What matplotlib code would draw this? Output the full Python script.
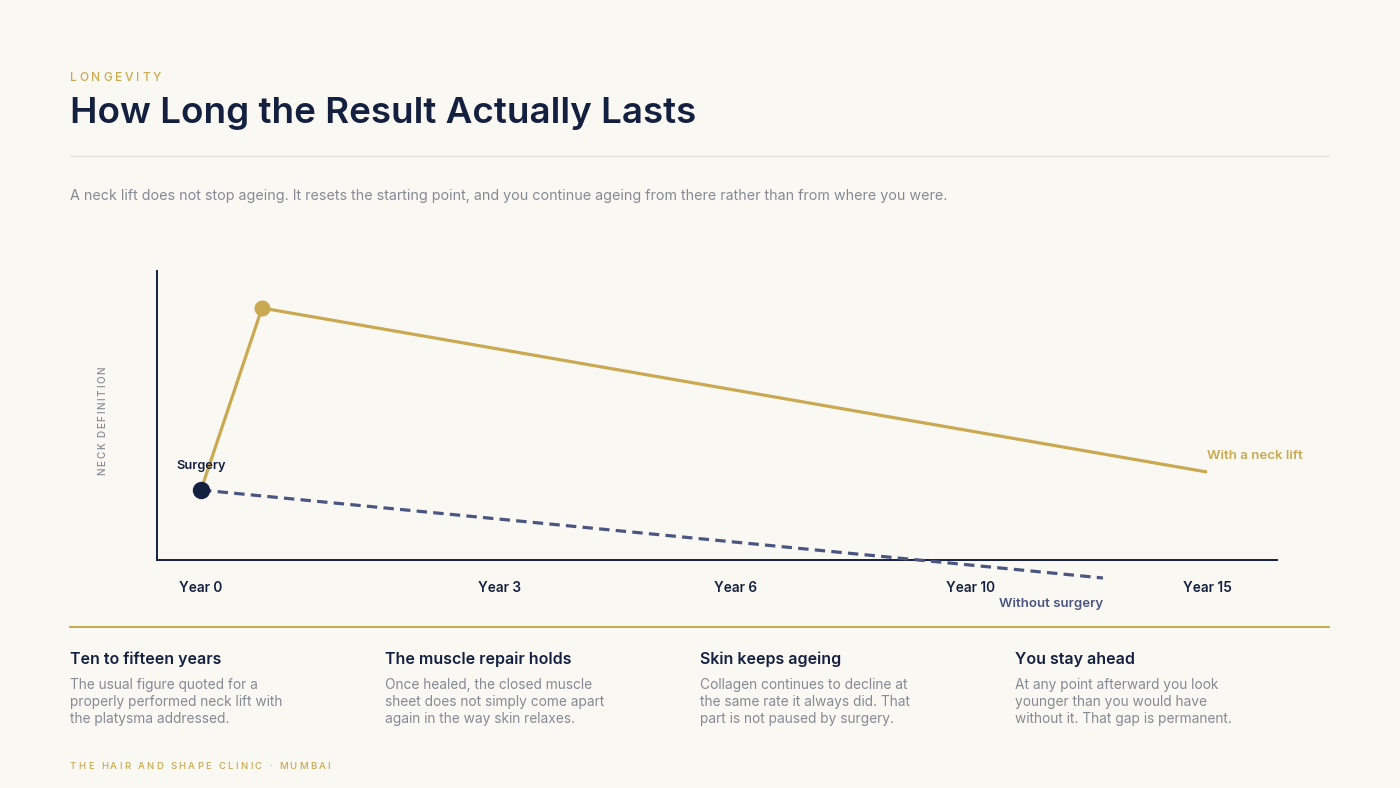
import matplotlib
matplotlib.use("Agg")
import matplotlib.pyplot as plt
from matplotlib.font_manager import FontProperties

W, H = 1400, 788
FONT = "Inter"

BG = "#faf8f3"
NAVY = "#14203f"
GOLD = "#c9a951"
SLATE = "#4b5680"
GRAY = "#878a94"
RULE = "#e6e3dc"

# chart data (chart units: x along the timeline, y = neck definition)
tick_pos = [44, 342, 578, 814, 1050]
tick_labels = ["Year 0", "Year 3", "Year 6", "Year 10", "Year 15"]
lift_x = [44, 105, 1050]
lift_y = [70, 252, 88]
nolift_x = [44, 946]
nolift_y = [70, -18]

kicker = "LONGEVITY"
title = "How Long the Result Actually Lasts"
subtitle = ("A neck lift does not stop ageing. It resets the starting point, "
            "and you continue ageing from there rather than from where you were.")
footer = "THE HAIR AND SHAPE CLINIC · MUMBAI"

card_titles = ["Ten to fifteen years", "The muscle repair holds",
               "Skin keeps ageing", "You stay ahead"]
card_lines = [
    ["The usual figure quoted for a", "properly performed neck lift with",
     "the platysma addressed."],
    ["Once healed, the closed muscle", "sheet does not simply come apart",
     "again in the way skin relaxes."],
    ["Collagen continues to decline at", "the same rate it always did. That",
     "part is not paused by surgery."],
    ["At any point afterward you look", "younger than you would have",
     "without it. That gap is permanent."],
]
card_x = [70, 385, 700, 1015]

plt.rcParams["font.family"] = [FONT, "DejaVu Sans"]
plt.rcParams["lines.scale_dashes"] = False

fig = plt.figure(figsize=(W / 100, H / 100), dpi=100, facecolor=BG)
renderer = fig.canvas.get_renderer()


def fx(x):
    return x / W


def fy(y):
    return 1 - y / H


def put(x, y, s, size, color, weight="normal", ha="left"):
    fig.text(fx(x), fy(y), s, fontsize=size, color=color, fontweight=weight,
             ha=ha, va="baseline")


def spaced(x, y, s, size, color, track, weight="normal", rotation=0):
    # letter-spaced text, drawn one glyph at a time
    prop = FontProperties(family=FONT, size=size, weight=weight)
    ref = renderer.get_text_width_height_descent("I", prop, ismath=False)[0]
    for i, ch in enumerate(s):
        if ch == " ":
            continue
        w = renderer.get_text_width_height_descent(s[:i] + "I", prop, ismath=False)[0] - ref
        off = w + i * track
        if rotation == 0:
            fig.text(fx(x + off), fy(y), ch, fontproperties=prop, color=color,
                     ha="left", va="baseline")
        else:
            fig.text(fx(x), fy(y - off), ch, fontproperties=prop, color=color,
                     ha="left", va="baseline", rotation=90, rotation_mode="anchor")


# header
spaced(70, 81, kicker, 8.6, GOLD, 2.8, weight="medium")
put(70, 123, title, 26.5, NAVY, weight="semibold")
fig.add_artist(plt.Line2D([fx(70), fx(1329)], [fy(156), fy(156)], color=RULE, lw=1))
put(70, 200, subtitle, 10.3, GRAY)

# chart
ax = fig.add_axes([fx(157), fy(560), fx(1120), 289 / H])
ax.set_facecolor(BG)
ax.set_xlim(0, 1120)
ax.set_ylim(0, 289)
for side in ["top", "right"]:
    ax.spines[side].set_visible(False)
for side in ["left", "bottom"]:
    ax.spines[side].set_color(NAVY)
    ax.spines[side].set_linewidth(1.4)
ax.set_yticks([])
ax.set_xticks(tick_pos, tick_labels)
ax.tick_params(axis="x", length=0, pad=15, labelsize=9.8, labelcolor=NAVY)
for lab in ax.get_xticklabels():
    lab.set_fontweight("semibold")

ax.plot(nolift_x, nolift_y, color=SLATE, lw=2.3, dashes=(7.5, 4.5), clip_on=False, zorder=3)
ax.plot(lift_x, lift_y, color=GOLD, lw=2.3, solid_capstyle="butt", clip_on=False, zorder=4)
ax.plot(lift_x[1], lift_y[1], "o", color=GOLD, ms=10.5, clip_on=False, zorder=5)
ax.plot(lift_x[0], lift_y[0], "o", color=NAVY, ms=11.5, clip_on=False, zorder=6)

put(176, 469, "Surgery", 9.2, NAVY, weight="semibold")
put(1207, 459, "With a neck lift", 9.5, GOLD, weight="semibold")
put(1103, 607, "Without surgery", 9.5, SLATE, weight="semibold", ha="right")
spaced(105, 475, "NECK DEFINITION", 7.2, GRAY, 1.6, weight="medium", rotation=90)

# cards
fig.add_artist(plt.Line2D([fx(70), fx(1329)], [fy(627), fy(627)], color=GOLD, lw=1.4))
for cx, head, lines in zip(card_x, card_titles, card_lines):
    put(cx, 664, head, 11.5, NAVY, weight="semibold")
    for k, line in enumerate(lines):
        put(cx, 688.5 + k * 17.4, line, 9.9, GRAY)

spaced(70, 769, footer, 6.9, GOLD, 2.3, weight="medium")

fig.savefig("out.png", dpi=100, facecolor=BG)
